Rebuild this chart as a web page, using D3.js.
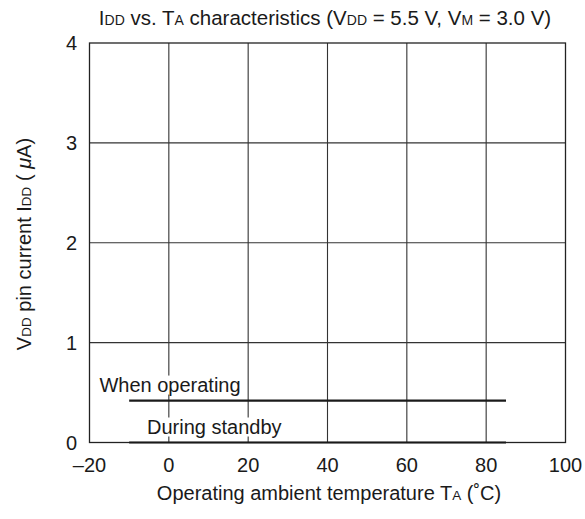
<!DOCTYPE html>
<html><head><meta charset="utf-8">
<script src="https://cdn.jsdelivr.net/npm/d3@7"></script>
<style>body{margin:0;background:#fff}text{font-family:"Liberation Sans",Arial,sans-serif;fill:#1a1a1a}</style>
</head><body><svg id="c" width="585" height="519"></svg>
<script>
const xTicks = [-20, 0, 20, 40, 60, 80, 100];
const xTickLabels = ["\u201320", "0", "20", "40", "60", "80", "100"];
const yTicks = [0, 1, 2, 3, 4];
const seriesNames = ["When operating", "During standby"];
const seriesT = [[-10, 85], [-10, 85]];
const seriesI = [[0.42, 0.42], [0.0, 0.0]];
const labelAnchorT = [-17.5, -5.5];

const svg = d3.select("#c");
const x = d3.scaleLinear().domain([-20, 100]).range([89.5, 565.5]);
const y = d3.scaleLinear().domain([0, 4]).range([442.5, 43]);
const fs = 20;
const subFs = 13.5;

const g = svg.append("g");
// grid
g.selectAll(".vg").data(xTicks.slice(1, -1)).join("line")
  .attr("x1", d => x(d)).attr("x2", d => x(d)).attr("y1", y(0)).attr("y2", y(4))
  .attr("stroke", "#333").attr("stroke-width", 1.1);
g.selectAll(".hg").data(yTicks.slice(1, -1)).join("line")
  .attr("y1", d => y(d)).attr("y2", d => y(d)).attr("x1", x(-20)).attr("x2", x(100))
  .attr("stroke", "#333").attr("stroke-width", 1.1);

// series labels with white background
const labels = g.selectAll(".lab").data(seriesNames).join("text")
  .attr("x", (d, i) => x(labelAnchorT[i]))
  .attr("y", (d, i) => y(seriesI[i][0]) - 9)
  .attr("font-size", fs).text(d => d);
labels.each(function () {
  const b = this.getBBox();
  g.insert("rect", () => this).attr("x", b.x - 1).attr("y", b.y + 2).attr("width", b.width + 2).attr("height", b.height - 3).attr("fill", "#fff");
});

// frame
g.append("rect").attr("x", x(-20)).attr("y", y(4)).attr("width", x(100) - x(-20)).attr("height", y(0) - y(4))
  .attr("fill", "none").attr("stroke", "#222").attr("stroke-width", 1.3);

// data lines
const line = d3.line().x(d => x(d[0])).y(d => y(d[1]));
seriesNames.forEach((n, i) => {
  g.append("path").attr("d", line(seriesT[i].map((t, j) => [t, seriesI[i][j]])))
    .attr("fill", "none").attr("stroke", "#1a1a1a").attr("stroke-width", 2.2);
});

// axes tick labels
g.selectAll(".xt").data(xTicks).join("text")
  .attr("x", d => x(d)).attr("y", 472).attr("text-anchor", "middle").attr("font-size", fs)
  .text((d, i) => xTickLabels[i]);
g.selectAll(".yt").data(yTicks).join("text")
  .attr("x", 77).attr("y", d => y(d) + 7).attr("text-anchor", "end").attr("font-size", fs)
  .text(d => d);

function sub(t, s, f) { t.append("tspan").attr("font-size", f || subFs).text(s); }
// title
const title = svg.append("text").attr("x", 325).attr("y", 25).attr("text-anchor", "middle").attr("font-size", 20.5);
title.append("tspan").text("I"); sub(title, "DD", 14);
title.append("tspan").text(" vs. T"); sub(title, "A", 14);
title.append("tspan").text(" characteristics (V"); sub(title, "DD", 14);
title.append("tspan").text(" = 5.5 V, V"); sub(title, "M", 14);
title.append("tspan").text(" = 3.0 V)");

// x label
const xl = svg.append("text").attr("x", 329).attr("y", 500).attr("text-anchor", "middle").attr("font-size", fs);
xl.append("tspan").text("Operating ambient temperature T"); sub(xl, "A");
xl.append("tspan").text(" (\u02DAC)");

// y label
const yl = svg.append("text").attr("transform", "translate(31,244) rotate(-90)").attr("text-anchor", "middle").attr("font-size", fs);
yl.append("tspan").text("V"); sub(yl, "DD");
yl.append("tspan").text(" pin current I"); sub(yl, "DD");
yl.append("tspan").text(" ( ");
yl.append("tspan").attr("font-style", "italic").text("\u03BC");
yl.append("tspan").text("A)");
</script></body></html>
